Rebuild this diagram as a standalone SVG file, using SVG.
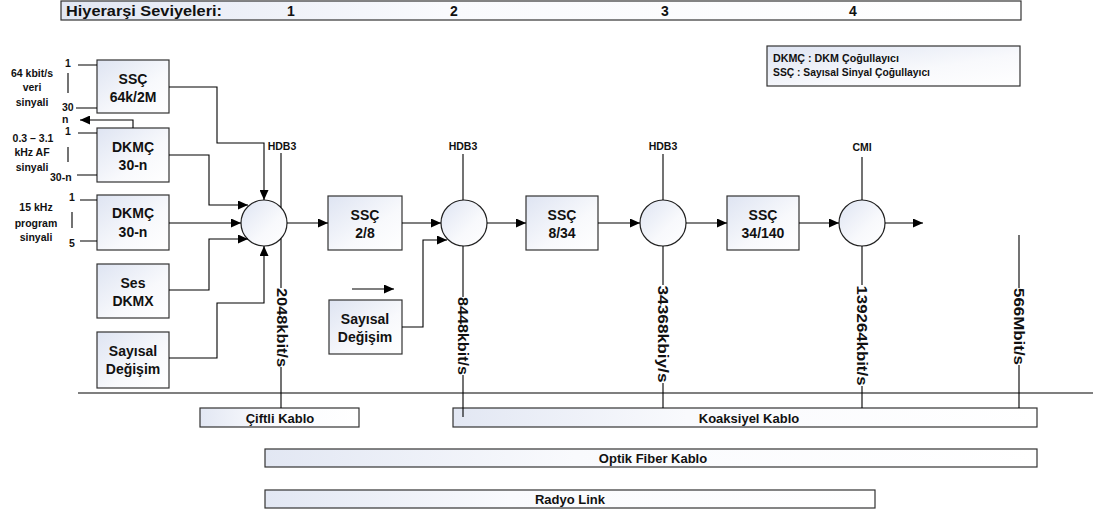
<svg xmlns="http://www.w3.org/2000/svg" width="1095" height="513" viewBox="0 0 1095 513">
<defs>
<linearGradient id="gb" x1="0" y1="0" x2="1" y2="1">
<stop offset="0" stop-color="#dee4f2"/>
<stop offset="0.6" stop-color="#f8f9fc"/>
<stop offset="1" stop-color="#ffffff"/>
</linearGradient>
<linearGradient id="gbar" x1="0" y1="0" x2="1" y2="0">
<stop offset="0" stop-color="#e2e7f3"/>
<stop offset="0.4" stop-color="#f9fafd"/>
<stop offset="1" stop-color="#ffffff"/>
</linearGradient>
<marker id="ah" markerUnits="userSpaceOnUse" markerWidth="11" markerHeight="9" refX="10" refY="4.5" orient="auto">
<path d="M0,0 L10,4.5 L0,9 z" fill="#000"/>
</marker>
<style>
text{font-family:"Liberation Sans",Arial,sans-serif;font-weight:bold;fill:#111;}
.box{fill:url(#gb);stroke:#333;stroke-width:1.2;}
.bar{fill:url(#gbar);stroke:#333;stroke-width:1.2;}
.c{fill:url(#gb);stroke:#222;stroke-width:1.2;}
.bt{font-size:14px;text-anchor:middle;}
.lt{font-size:10.5px;text-anchor:middle;}
.sm{font-size:10.5px;}
.rt{font-size:14px;text-anchor:middle;}
.bl{font-size:13px;text-anchor:middle;}
.ln{fill:none;stroke:#000;stroke-width:1.1;}
.ar{fill:none;stroke:#000;stroke-width:1.1;marker-end:url(#ah);}
</style>
</defs>

<g id="header">
<rect class="bar" x="61" y="1" width="960" height="19"/>
<text x="66" y="15.5" font-size="14" textLength="156" lengthAdjust="spacingAndGlyphs">Hiyerarşi Seviyeleri:</text>
<text x="291" y="15.5" font-size="14" text-anchor="middle">1</text>
<text x="454" y="15.5" font-size="14" text-anchor="middle">2</text>
<text x="665" y="15.5" font-size="14" text-anchor="middle">3</text>
<text x="853" y="15.5" font-size="14" text-anchor="middle">4</text>
</g>

<g id="legend">
<rect class="box" x="767" y="46" width="253" height="40"/>
<text x="773" y="62" font-size="10.5" textLength="126" lengthAdjust="spacingAndGlyphs">DKMÇ : DKM Çoğullayıcı</text>
<text x="773" y="76" font-size="10.5" textLength="157" lengthAdjust="spacingAndGlyphs">SSÇ : Sayısal Sinyal Çoğullayıcı</text>
</g>

<g id="inputs">
<text class="lt" x="32" y="77">64 kbit/s</text>
<text class="lt" x="32" y="91">veri</text>
<text class="lt" x="32" y="106">sinyali</text>
<text class="sm" x="65" y="67">1</text>
<text class="sm" x="62" y="110.5">30</text>
<text class="sm" x="62" y="123">n</text>
<text class="lt" x="33" y="142">0.3 – 3.1</text>
<text class="lt" x="32" y="156">kHz AF</text>
<text class="lt" x="32" y="171">sinyali</text>
<text class="sm" x="65" y="135">1</text>
<text class="sm" x="50" y="181">30-n</text>
<text class="lt" x="36" y="211">15 kHz</text>
<text class="lt" x="36" y="227">program</text>
<text class="lt" x="36" y="241">sinyali</text>
<text class="sm" x="69" y="201">1</text>
<text class="sm" x="69" y="247">5</text>
</g>

<g id="ssc64">
<rect class="box" x="97" y="60" width="72" height="53"/>
<text class="bt" x="133" y="84">SSÇ</text>
<text class="bt" x="133" y="102">64k/2M</text>
</g>
<g id="dkmc1">
<rect class="box" x="97" y="128" width="72" height="54"/>
<text class="bt" x="133" y="152">DKMÇ</text>
<text class="bt" x="133" y="170">30-n</text>
</g>
<g id="dkmc2">
<rect class="box" x="97" y="195" width="72" height="55"/>
<text class="bt" x="133" y="218">DKMÇ</text>
<text class="bt" x="133" y="237">30-n</text>
</g>
<g id="ses">
<rect class="box" x="97" y="264" width="72" height="54"/>
<text class="bt" x="133" y="288">Ses</text>
<text class="bt" x="133" y="306">DKMX</text>
</g>
<g id="sayisal1">
<rect class="box" x="97" y="332" width="72" height="56"/>
<text class="bt" x="133" y="356">Sayısal</text>
<text class="bt" x="133" y="374">Değişim</text>
</g>
<g id="c1"><circle class="c" cx="264" cy="223" r="23"/></g>
<g id="ssc28">
<rect class="box" x="328" y="196" width="74" height="54"/>
<text class="bt" x="365" y="220">SSÇ</text>
<text class="bt" x="365" y="238">2/8</text>
</g>
<g id="sayisal2">
<rect class="box" x="329" y="300" width="73" height="54"/>
<text class="bt" x="365" y="324">Sayısal</text>
<text class="bt" x="365" y="342">Değişim</text>
</g>
<g id="c2"><circle class="c" cx="464" cy="223" r="23"/></g>
<g id="ssc834">
<rect class="box" x="526" y="196" width="72" height="54"/>
<text class="bt" x="562" y="220">SSÇ</text>
<text class="bt" x="562" y="238">8/34</text>
</g>
<g id="c3"><circle class="c" cx="663" cy="223" r="23"/></g>
<g id="ssc34140">
<rect class="box" x="727" y="196" width="72" height="54"/>
<text class="bt" x="763" y="220">SSÇ</text>
<text class="bt" x="763" y="238">34/140</text>
</g>
<g id="c4"><circle class="c" cx="862" cy="223" r="23"/></g>

<g id="codes">
<text class="lt" x="282" y="150">HDB3</text>
<text class="lt" x="463" y="150">HDB3</text>
<text class="lt" x="663" y="150">HDB3</text>
<text class="lt" x="862" y="151">CMI</text>
</g>

<g id="rates">
<text class="rt" transform="translate(282,327.5) rotate(90)" dy="5" textLength="79" lengthAdjust="spacingAndGlyphs">2048kbit/s</text>
<text class="rt" transform="translate(463,336) rotate(90)" dy="5" textLength="78" lengthAdjust="spacingAndGlyphs">8448kbit/s</text>
<text class="rt" transform="translate(663,334) rotate(90)" dy="5" textLength="97" lengthAdjust="spacingAndGlyphs">34368kbiy/s</text>
<text class="rt" transform="translate(862,335.5) rotate(90)" dy="5" textLength="100" lengthAdjust="spacingAndGlyphs">139264kbit/s</text>
<text class="rt" transform="translate(1019,326.5) rotate(90)" dy="5" textLength="77" lengthAdjust="spacingAndGlyphs">566Mbit/s</text>
</g>

<g id="media">
<rect class="bar" x="200" y="408" width="159" height="19"/>
<text class="bl" x="280" y="422.5">Çiftli Kablo</text>
<rect class="bar" x="453" y="408" width="584" height="19"/>
<text class="bl" x="749" y="422.5">Koaksiyel Kablo</text>
<rect class="bar" x="265" y="449" width="772" height="18"/>
<text class="bl" x="653" y="463">Optik Fiber Kablo</text>
<rect class="bar" x="265" y="490" width="610" height="18"/>
<text class="bl" x="570" y="504">Radyo Link</text>
</g>

<g id="connectors">
<path class="ln" d="M78,65 H97 M76,108 H97 M78,133 H97 M77,175 H97 M80,200 H97 M80,241 H97"/>
<path class="ln" stroke-width="1.6" d="M68,73 V93 M68,147 V162 M72,212 V228"/>
<path class="ar" d="M133,128 V120 H80"/>
<path class="ar" d="M169,87 H217 V143 H264 V200"/>
<path class="ar" d="M169,155 H209 V205 H248"/>
<path class="ar" d="M169,223 H241"/>
<path class="ar" d="M169,290 H209 V239 H248"/>
<path class="ar" d="M169,358 H217 V303 H264 V246"/>
<path class="ar" d="M287,223 H328"/>
<path class="ar" d="M402,223 H441"/>
<path class="ar" d="M402,327 H423 V240 H447"/>
<path class="ar" d="M352,289 H394"/>
<path class="ar" d="M487,223 H526"/>
<path class="ar" d="M598,223 H640"/>
<path class="ar" d="M686,223 H727"/>
<path class="ar" d="M799,223 H839"/>
<path class="ar" d="M885,223 H923"/>
<path class="ln" d="M281,153 V207.5 M281,238.5 V288 M281,367 V408"/>
<path class="ln" d="M463,154 V200 M463,246 V297 M463,375 V417"/>
<path class="ln" d="M663,154 V200 M663,246 V285 M663,383 V408"/>
<path class="ln" d="M862,157 V200 M862,246 V285 M862,386 V408"/>
<path class="ln" stroke-width="2.2" d="M1019,235 V247"/>
<path class="ln" d="M1019,247 V288 M1019,365 V408"/>
<path class="ln" d="M78,393 H1093"/>
</g>
</svg>
